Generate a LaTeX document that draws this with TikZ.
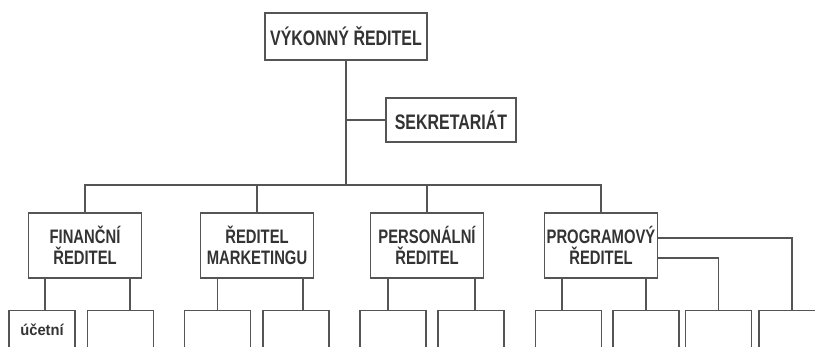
\documentclass[tikz,border=0pt]{standalone}
\usepackage{fontspec}
\setmainfont{Liberation Sans}[FakeStretch=0.76]
\newfontfamily\leaffont{Liberation Sans}[FakeStretch=0.95]
\usetikzlibrary{positioning}
\definecolor{inkline}{HTML}{555555}
\definecolor{inktext}{HTML}{333333}

\begin{document}
\begin{tikzpicture}[x=1pt,y=-1pt,line width=1.3pt,color=inkline,
                box/.style={draw=inkline,text=inktext,align=center,inner sep=2pt,
                            font=\bfseries\fontsize{21}{22}\selectfont},
                head/.style={box,minimum width=113pt,minimum height=65pt,
                             font=\bfseries\fontsize{19.5}{21}\selectfont},
                leaf/.style={box,anchor=north,minimum width=66pt,minimum height=38pt,
                             font=\leaffont\bfseries\fontsize{15.5}{17}\selectfont}]
                \clip (0,0) rectangle (815,346);

                % Define the boxes as nodes
                \node[box,minimum width=162pt,minimum height=47pt] (ceo) at (346,36.5) {VÝKONNÝ ŘEDITEL};
                \node[box,minimum width=130pt,minimum height=44pt] (sekr) at (451,120) {SEKRETARIÁT};
                \coordinate (bus) at (346,185);

                \node[head] (fin) at (85,245.5)  {FINANČNÍ\\ŘEDITEL};
                \node[head] (mkt) at (257,245.5) {ŘEDITEL\\MARKETINGU};
                \node[head] (per) at (427,245.5) {PERSONÁLNÍ\\ŘEDITEL};
                \node[head] (prg) at (601,245.5) {PROGRAMOVÝ\\ŘEDITEL};

                \node[leaf] (b1) at (42,310)    {účetní};
                \node[leaf] (b2) at (120.5,310) {};
                \node[leaf] (b3) at (217.5,310) {};
                \node[leaf] (b4) at (296,310)   {};
                \node[leaf] (b5) at (393,310)   {};
                \node[leaf] (b6) at (471,310)   {};
                \node[leaf] (b7) at (568.5,310) {};
                \node[leaf] (b8) at (646,310)   {};
                \node[leaf] (b9) at (718.5,310) {};
                \node[leaf] (b10) at (792,310)  {};

                % Connect the boxes with lines
                \draw (ceo.south) -- (bus);
                \draw (sekr.west) -- (sekr.west -| ceo.south);
                \draw (fin.north) |- (bus) -| (prg.north);
                \draw (mkt.north) -- (mkt.north |- bus);
                \draw (per.north) -- (per.north |- bus);

                \draw ([xshift=3pt]b1.north) -- ([xshift=3pt]b1.north |- fin.south);
                \draw ([xshift=9.5pt]b2.north) -- ([xshift=9.5pt]b2.north |- fin.south);
                \draw (b3.north) -- (b3.north |- mkt.south);
                \draw ([xshift=7pt]b4.north) -- ([xshift=7pt]b4.north |- mkt.south);
                \draw ([xshift=-5pt]b5.north) -- ([xshift=-5pt]b5.north |- per.south);
                \draw ([xshift=4pt]b6.north) -- ([xshift=4pt]b6.north |- per.south);
                \draw ([xshift=-6.5pt]b7.north) -- ([xshift=-6.5pt]b7.north |- prg.south);
                \draw (b8.north) -- (b8.north |- prg.south);

                \draw ([yshift=-12.5pt]prg.east) -| (b9.north);
                \draw ([yshift=7.5pt]prg.east) -| (b10.north);

            \end{tikzpicture}
\end{document}
